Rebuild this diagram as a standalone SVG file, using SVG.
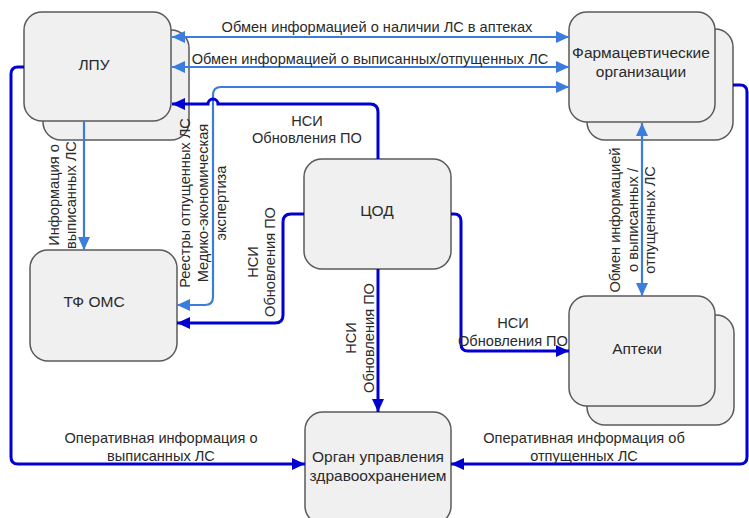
<svg xmlns="http://www.w3.org/2000/svg" width="749" height="518" viewBox="0 0 749 518">
<style>
.box{fill:#f0f0f0;stroke:#5a5a5a;stroke-width:1.5}
.nl{font-family:"Liberation Sans",Arial,sans-serif;font-size:15.5px;fill:#2a2a2a;text-anchor:middle}
.el{font-family:"Liberation Sans",Arial,sans-serif;font-size:14.6px;fill:#2a2a2a;text-anchor:middle}
.lb{fill:none;stroke:#3b7ddd;stroke-width:2.2}
.db{fill:none;stroke:#0000d0;stroke-width:3}
</style>
<defs>
<marker id="al" markerUnits="userSpaceOnUse" markerWidth="14" markerHeight="12" refX="13" refY="6" orient="auto-start-reverse"><path d="M0,0 L13,6 L0,12 z" fill="#3b7ddd"/></marker>
<marker id="ad" markerUnits="userSpaceOnUse" markerWidth="14" markerHeight="12" refX="13" refY="6" orient="auto-start-reverse"><path d="M0,0 L13,6 L0,12 z" fill="#0000d0"/></marker>
</defs>
<rect width="749" height="518" fill="#ffffff"/>
<g id="lpu">
<rect class="box" x="43" y="30" width="146" height="110" rx="18"/>
<rect class="box" x="24" y="12" width="147" height="109" rx="18"/>
<text class="nl" x="94" y="70">ЛПУ</text>
</g>
<g id="pharm">
<rect class="box" x="587" y="29" width="146" height="111" rx="18"/>
<rect class="box" x="569" y="12" width="146" height="110" rx="18"/>
<text class="nl" x="641" y="58">Фармацевтические</text>
<text class="nl" x="641" y="77">организации</text>
</g>
<g id="cod">
<rect class="box" x="304" y="159" width="147" height="110" rx="18"/>
<text class="nl" x="377" y="216">ЦОД</text>
</g>
<g id="tfoms">
<rect class="box" x="30" y="250" width="147" height="111" rx="18"/>
<text class="nl" x="94" y="307">ТФ ОМС</text>
</g>
<g id="apteki">
<rect class="box" x="587" y="315" width="147" height="110" rx="18"/>
<rect class="box" x="569" y="296" width="146" height="110" rx="18"/>
<text class="nl" x="637" y="354">Аптеки</text>
</g>
<g id="organ">
<rect class="box" x="305" y="412" width="146" height="112" rx="18"/>
<text class="nl" x="378" y="462">Орган управления</text>
<text class="nl" x="378" y="481">здравоохранением</text>
</g>
<g id="connectors">
<path class="lb" d="M172,37 H569" marker-start="url(#al)" marker-end="url(#al)"/>
<path class="lb" d="M172,67 H569" marker-start="url(#al)" marker-end="url(#al)"/>
<path class="lb" d="M177,305 H205 Q213,305 213,297 V95 Q213,87 221,87 H569" marker-start="url(#al)" marker-end="url(#al)"/>
<path class="lb" d="M84,121 V250" marker-end="url(#al)"/>
<path class="lb" d="M642,123 V296" marker-start="url(#al)" marker-end="url(#al)"/>
<path class="db" d="M378,159 V112 Q378,104 370,104 H218 A5,5 0 0 0 208,104 H172" marker-end="url(#ad)"/>
<path class="db" d="M304,214 H291 Q283,214 283,222 V315 Q283,323 275,323 H177" marker-end="url(#ad)"/>
<path class="db" d="M378,269 V412" marker-end="url(#ad)"/>
<path class="db" d="M451,214 H454 Q461,214 461,221 V344 Q461,351 468,351 H569" marker-end="url(#ad)"/>
<path class="db" d="M24,67 H18 Q11,67 11,74 V457 Q11,464 18,464 H305" marker-end="url(#ad)"/>
<path class="db" d="M733,85 H740 Q747,85 747,92 V457 Q747,464 740,464 H451" marker-end="url(#ad)"/>
</g>
<g id="labels">
<text class="el" x="377" y="32">Обмен информацией о наличии ЛС в аптеках</text>
<text class="el" x="370" y="64">Обмен информацией о выписанных/отпущенных ЛС</text>
<text class="el" x="307" y="126">НСИ</text>
<text class="el" x="307" y="143">Обновления ПО</text>
<text class="el" transform="translate(59,195) rotate(-90)">Информация о</text>
<text class="el" transform="translate(76,195) rotate(-90)">выписанных ЛС</text>
<text class="el" transform="translate(190,203) rotate(-90)">Реестры отпущенных ЛС</text>
<text class="el" transform="translate(208,203) rotate(-90)">Медико-экономическая</text>
<text class="el" transform="translate(226,203) rotate(-90)">экспертиза</text>
<text class="el" transform="translate(258,262) rotate(-90)">НСИ</text>
<text class="el" transform="translate(275,262) rotate(-90)">Обновления ПО</text>
<text class="el" transform="translate(356,338) rotate(-90)">НСИ</text>
<text class="el" transform="translate(374,338) rotate(-90)">Обновления ПО</text>
<text class="el" x="513" y="328">НСИ</text>
<text class="el" x="513" y="346">Обновления ПО</text>
<text class="el" transform="translate(620,220) rotate(-90)">Обмен информацией</text>
<text class="el" transform="translate(638,220) rotate(-90)">о выписанных /</text>
<text class="el" transform="translate(655,220) rotate(-90)">отпущенных ЛС</text>
<text class="el" x="161" y="443">Оперативная информация о</text>
<text class="el" x="161" y="461">выписанных ЛС</text>
<text class="el" x="584" y="443">Оперативная информация об</text>
<text class="el" x="584" y="461">отпущенных ЛС</text>
</g>
</svg>
